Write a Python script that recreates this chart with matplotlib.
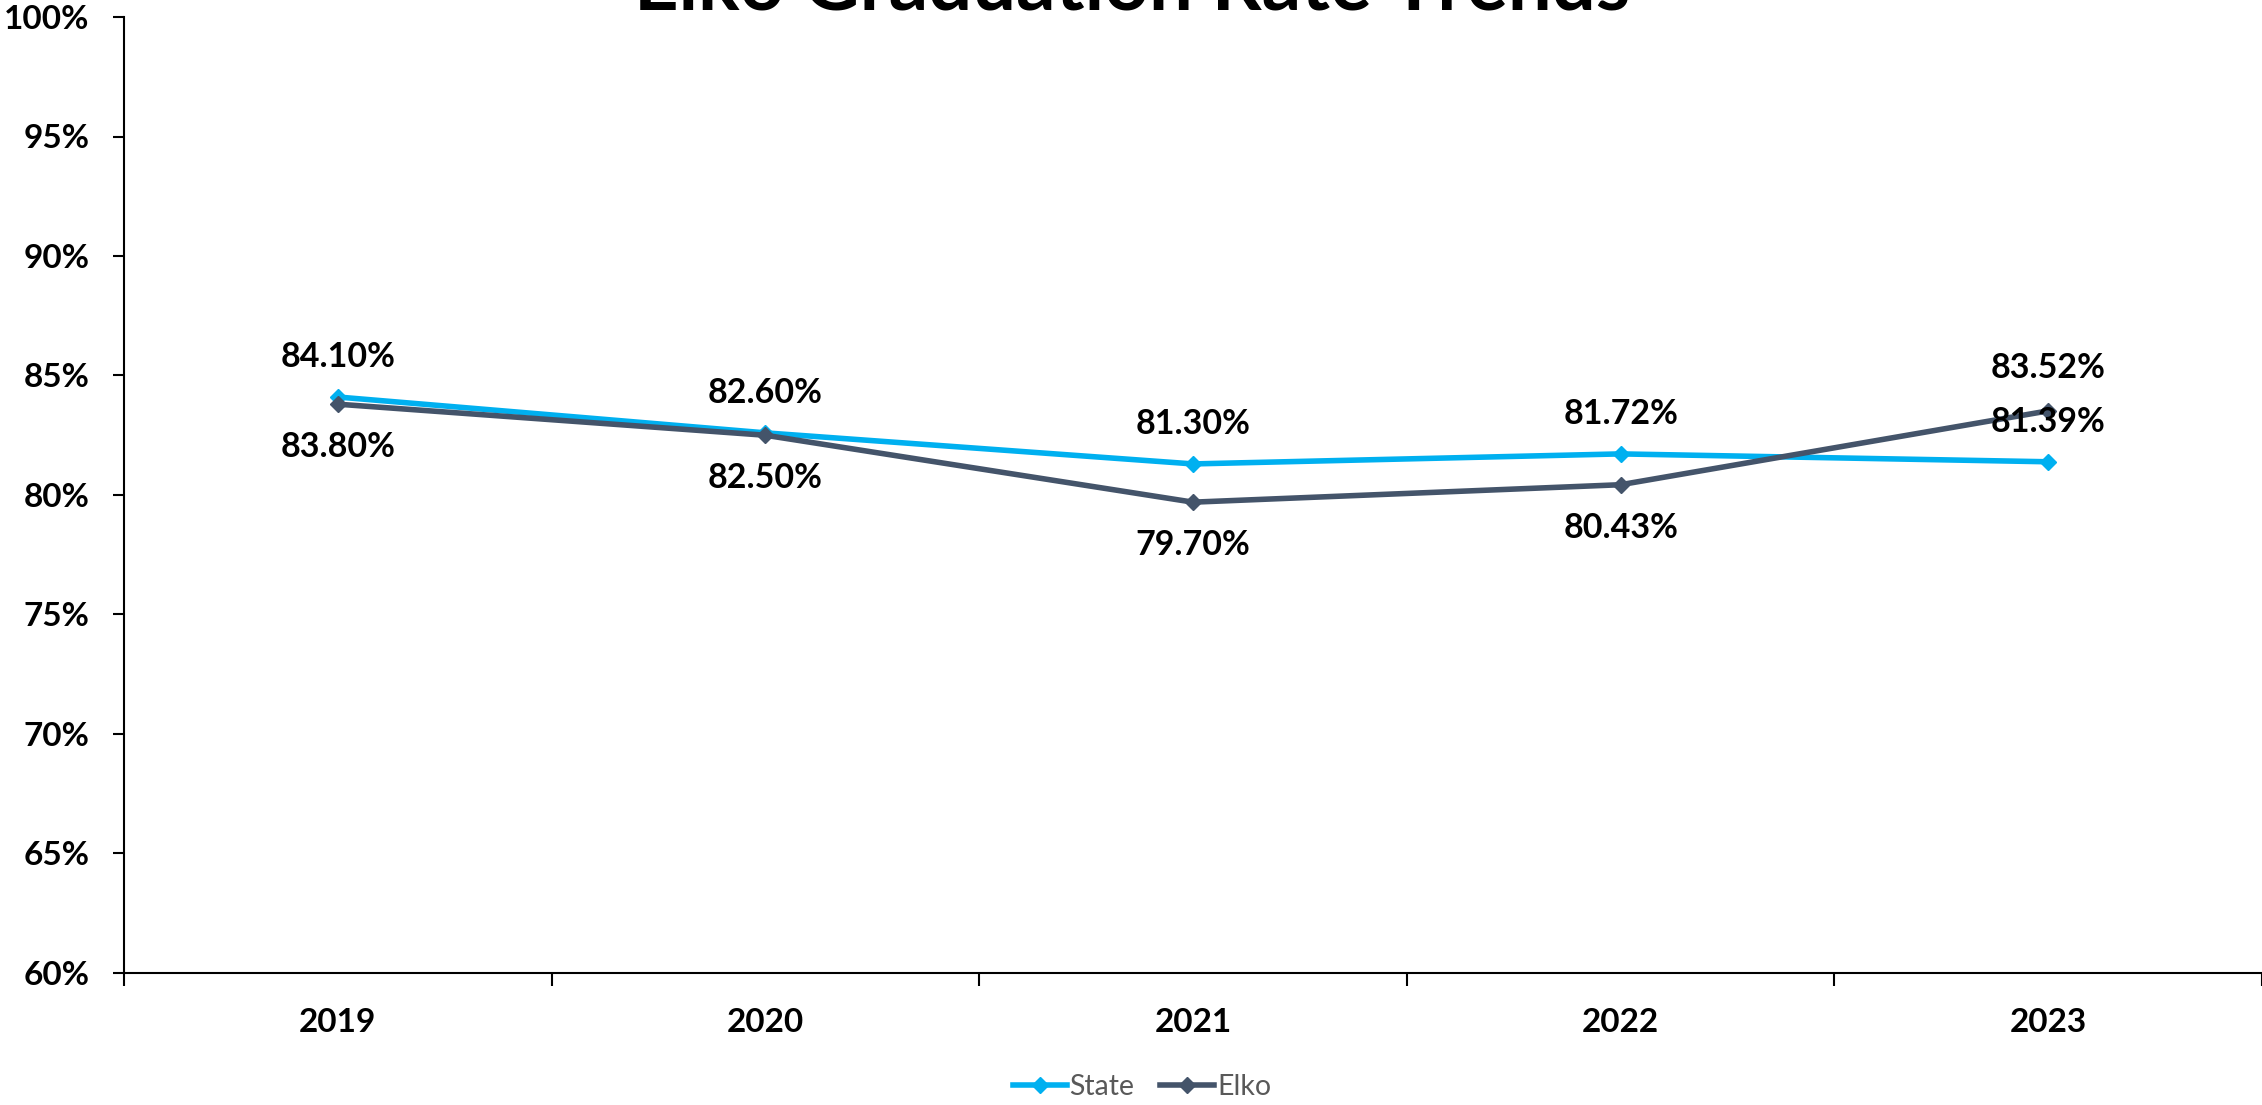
import matplotlib.pyplot as plt
from matplotlib.lines import Line2D

plt.rcParams['font.family'] = ['Lato', 'DejaVu Sans']

years = ["2019", "2020", "2021", "2022", "2023"]
state = [84.10, 82.60, 81.30, 81.72, 81.39]
elko = [83.80, 82.50, 79.70, 80.43, 83.52]
# label side for each point: +1 above, -1 below
state_side = [1, 1, 1, 1, 1]
elko_side = [-1, -1, -1, -1, 1]
y_ticks = [60, 65, 70, 75, 80, 85, 90, 95, 100]

STATE_COLOR = "#00B0F0"
ELKO_COLOR = "#44546A"

fig = plt.figure(figsize=(22.62, 11.05), dpi=100)
ax = fig.add_axes([124 / 2262, 1 - 973 / 1105, 1 - 124 / 2262, (973 - 17) / 1105])

x = list(range(len(years)))
ax.plot(x, state, color=STATE_COLOR, lw=4, marker="D", ms=8, zorder=3)
ax.plot(x, elko, color=ELKO_COLOR, lw=4, marker="D", ms=8, zorder=3)

for xi, v, s in zip(x, state, state_side):
    ax.annotate(f"{v:.2f}%", (xi, v), xytext=(0, 29 * s), textcoords="offset points",
                ha="center", va="center", fontsize=24.5, fontweight="bold")
for xi, v, s in zip(x, elko, elko_side):
    ax.annotate(f"{v:.2f}%", (xi, v), xytext=(0, 31 * s), textcoords="offset points",
                ha="center", va="center", fontsize=24.5, fontweight="bold")

ax.set_xlim(-0.5, len(years) - 0.5)
ax.set_ylim(60, 100)
ax.set_yticks(y_ticks)
ax.set_yticklabels([f"{t}%" for t in y_ticks], fontsize=24, fontweight="bold")
ax.set_xticks(x)
ax.set_xticklabels(years, fontsize=24, fontweight="bold")
ax.set_xticks([i - 0.5 for i in range(len(years) + 1)], minor=True)
ax.tick_params(axis="x", which="major", length=0, pad=25)
ax.tick_params(axis="x", which="minor", length=9, width=1.5, direction="out")
ax.tick_params(axis="y", length=8, width=1.5, pad=17)

for side in ["top", "right"]:
    ax.spines[side].set_visible(False)
for side in ["left", "bottom"]:
    ax.spines[side].set_linewidth(1.5)

fig.text(0.5005, 1 - 10 / 1105, "Elko Graduation Rate Trends", ha="center", va="baseline",
         fontsize=56, fontweight="bold")

handles = [Line2D([], [], color=STATE_COLOR, lw=4, marker="D", ms=8),
           Line2D([], [], color=ELKO_COLOR, lw=4, marker="D", ms=8)]
fig.legend(handles, ["State", "Elko"], loc="center", bbox_to_anchor=(1142 / 2262, 1 - 1087 / 1105),
           ncol=2, frameon=False, fontsize=20.5, labelcolor="#595959",
           handlelength=1.9, handletextpad=0.1, columnspacing=0.9)

fig.savefig("out.png", dpi=100)
